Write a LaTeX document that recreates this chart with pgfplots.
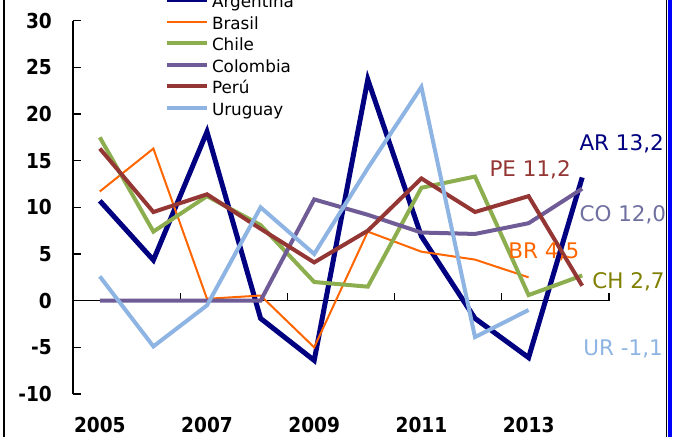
\documentclass[border=0pt]{standalone}
\usepackage{fontspec}
\setmainfont{DejaVu Sans}
\newfontfamily\condfont{DejaVu Sans Condensed}
\usepackage{pgfplots}
\pgfplotsset{compat=1.18}

\definecolor{arg}{HTML}{000080}
\definecolor{bra}{HTML}{FF6600}
\definecolor{chi}{HTML}{8CAE4F}
\definecolor{col}{HTML}{6F5B96}
\definecolor{per}{HTML}{943634}
\definecolor{uru}{HTML}{8DB4E2}
\definecolor{colab}{HTML}{7070A0}
\definecolor{chlab}{HTML}{7F7F00}

\newcommand\tickfont{\condfont\bfseries\fontsize{20.6bp}{22bp}\selectfont}
\newcommand\annfont{\fontsize{21.5bp}{24bp}\selectfont}

\begin{document}
\begin{tikzpicture}
\begin{axis}[
  at={(73bp,43bp)}, anchor=south west,
  scale only axis, width=536bp, height=373.3bp,
  xmin=2004.5, xmax=2014.5, ymin=-10, ymax=30,
  axis lines=left, axis line style={-, line width=1.2bp},
  x axis line style={draw=none},
  xtick={2005,2007,2009,2011,2013},
  xticklabels={2005,2007,2009,2011,2013},
  ytick={-10,-5,...,30},
  x tick style={draw=none},
  y tick style={line width=1.2bp, black},
  tick align=inside, major tick length=8bp,
  /pgf/number format/assume math mode=true,
  xticklabel style={font=\tickfont, anchor=north, inner sep=0pt, yshift=-22.7bp},
  yticklabel style={font=\tickfont, anchor=east, inner sep=0pt, xshift=-21bp},
  clip=false,
  legend cell align=left,
  legend style={at={(axis description cs:0.1698,1.0729)}, anchor=north west,
    draw=none, fill=none, inner sep=0pt, outer sep=0pt,
    row sep=3.6bp, column sep=3bp,
    nodes={inner sep=0pt, text height=14bp, text depth=4bp,
      font=\fontsize{16.8bp}{18bp}\selectfont}},
  legend image code/.code={\draw[#1] (0bp,2.5bp) -- (40bp,2.5bp);},
]
% zero line with its ticks
\draw[line width=1.2bp] (axis cs:2004.5,0) -- (axis cs:2014.5,0);
\draw[line width=1.2bp] (axis cs:2006.5,0) -- ++(0bp,8bp);
\draw[line width=1.2bp] (axis cs:2008.5,0) -- ++(0bp,8bp);
\draw[line width=1.2bp] (axis cs:2010.5,0) -- ++(0bp,8bp);
\draw[line width=1.2bp] (axis cs:2012.5,0) -- ++(0bp,8bp);
\draw[line width=1.2bp] (axis cs:2014.5,0) -- ++(0bp,8bp);

\addplot[arg, line width=5bp] coordinates {
  (2005,10.7) (2006,4.35) (2007,18.1) (2008,-1.9) (2009,-6.4)
  (2010,23.7) (2011,6.9) (2012,-1.9) (2013,-6.1) (2014,13.2)};
\addlegendentry{Argentina}
\addplot[bra, line width=2bp] coordinates {
  (2005,11.7) (2006,16.3) (2007,0.2) (2008,0.55) (2009,-5.0)
  (2010,7.4) (2011,5.25) (2012,4.4) (2013,2.5)};
\addlegendentry{Brasil}
\addplot[chi, line width=4bp] coordinates {
  (2005,17.5) (2006,7.4) (2007,11.2) (2008,8.1) (2009,2.0)
  (2010,1.5) (2011,12.1) (2012,13.3) (2013,0.6) (2014,2.7)};
\addlegendentry{Chile}
\addplot[col, line width=4bp] coordinates {
  (2005,0) (2006,0) (2007,0) (2008,0) (2009,10.85)
  (2010,9.2) (2011,7.3) (2012,7.15) (2013,8.3) (2014,12.0)};
\addlegendentry{Colombia}
\addplot[per, line width=4bp] coordinates {
  (2005,16.3) (2006,9.5) (2007,11.4) (2008,7.7) (2009,4.1)
  (2010,7.5) (2011,13.1) (2012,9.5) (2013,11.2) (2014,1.6)};
\addlegendentry{Perú}
\addplot[uru, line width=4bp] coordinates {
  (2005,2.6) (2006,-4.9) (2007,-0.5) (2008,10.0) (2009,5.0)
  (2010,14.2) (2011,22.9) (2012,-3.9) (2013,-1.0)};
\addlegendentry{Uruguay}

\node[anchor=base west, inner sep=0pt, text=arg, font=\annfont] at (axis cs:2013.946,16.11) {AR 13,2};
\node[anchor=base west, inner sep=0pt, text=per, font=\annfont] at (axis cs:2012.267,13.32) {PE 11,2};
\node[anchor=base west, inner sep=0pt, text=colab, font=\annfont] at (axis cs:2013.946,8.45) {CO 12,0};
\node[anchor=base west, inner sep=0pt, text=bra, font=\annfont] at (axis cs:2012.621,4.53) {BR 4,5};
\node[anchor=base west, inner sep=0pt, text=chlab, font=\annfont] at (axis cs:2014.188,1.26) {CH 2,7};
\node[anchor=base west, inner sep=0pt, text=uru, font=\annfont] at (axis cs:2014.02,-5.86) {UR -1,1};
\end{axis}
% frame edges
\draw[line width=1.3bp] (4bp,0bp) -- (4bp,437bp);
\draw[line width=1.3bp] (666.5bp,0bp) -- (666.5bp,437bp);
\fill[blue] (668bp,0bp) rectangle (672bp,437bp);
\pgfresetboundingbox
\useasboundingbox (0bp,0bp) rectangle (676bp,437bp);
\end{tikzpicture}
\end{document}
